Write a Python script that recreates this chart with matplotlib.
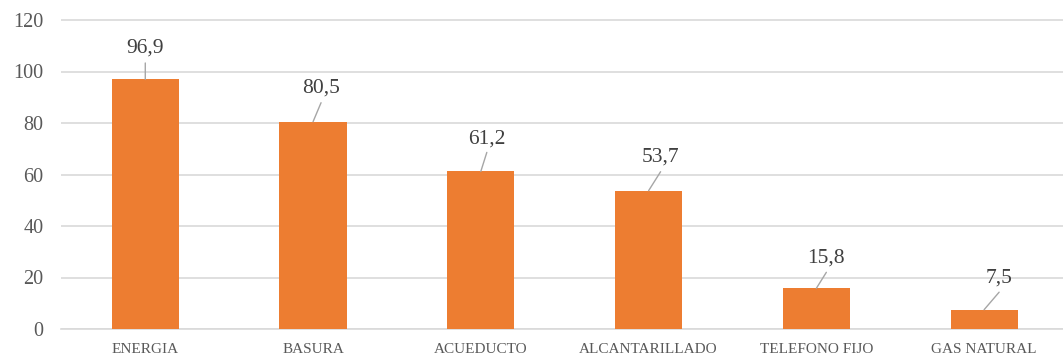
import matplotlib
matplotlib.use('Agg')
from matplotlib import pyplot as plt

# coverage of public services (%)
servicios = ['ENERGIA', 'BASURA', 'ACUEDUCTO', 'ALCANTARILLADO', 'TELEFONO FIJO', 'GAS NATURAL']
cobertura = [96.9, 80.5, 61.2, 53.7, 15.8, 7.5]

# label placement relative to the bar top, in pixels (dx, label centre, leader top)
label_dx = [0, 8, 6, 12, 10, 15]
label_dy = [31.5, 33.5, 32.5, 34, 30.5, 31.5]
line_dy = [16.5, 19, 19, 19, 16, 17.5]

plt.rcParams['font.family'] = ['Liberation Serif', 'DejaVu Serif']

W, H = 1063, 358
fig = plt.figure(figsize=(W / 100, H / 100), dpi=100)
px_per_unit = (329 - 20) / 120
top_px = 329 - 121 * px_per_unit
ax = fig.add_axes([61.4 / W, (H - 329) / H, (1068 - 61.4) / W, (329 - top_px) / H])

x = range(len(servicios))
ax.bar(x, cobertura, width=0.4, color='#ED7D31', zorder=3)

pt = 0.72
for i, v in enumerate(cobertura):
    ax.annotate('', xy=(i, v), xytext=(label_dx[i] * pt, line_dy[i] * pt),
                textcoords='offset points',
                arrowprops=dict(arrowstyle='-', color='#A6A6A6', lw=1.0,
                                shrinkA=0, shrinkB=0))
    ax.annotate(f'{v:.1f}'.replace('.', ','), xy=(i, v),
                xytext=(label_dx[i] * pt, label_dy[i] * pt),
                textcoords='offset points', ha='center', va='center',
                fontsize=15.5, color='#404040')

ax.set_xlim(-0.5, len(servicios) - 0.5)
ax.set_ylim(0, 121)
ax.set_yticks(range(0, 121, 20))
ax.set_xticks(list(x))
ax.set_xticklabels(servicios, fontsize=11, color='#595959')
ax.tick_params(axis='y', labelsize=14.5, labelcolor='#595959', length=0, pad=13)
ax.tick_params(axis='x', length=0, pad=10)

ax.grid(axis='y', color='#D9D9D9', lw=1.2, zorder=0)
for s in ['top', 'right', 'left']:
    ax.spines[s].set_visible(False)
ax.spines['bottom'].set_color('#D9D9D9')
ax.spines['bottom'].set_linewidth(1.2)

fig.savefig('out.png', dpi=100)
